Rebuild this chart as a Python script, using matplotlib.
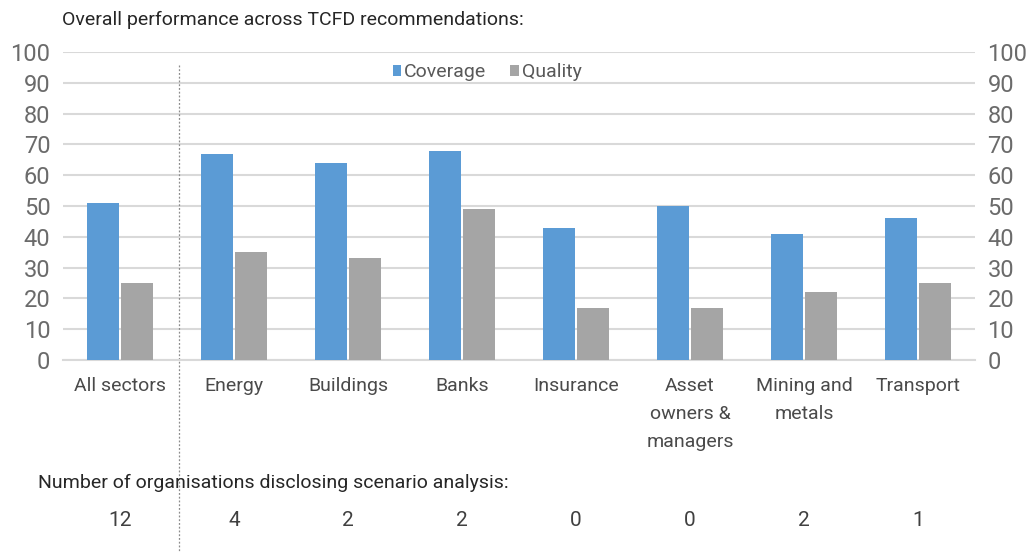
import matplotlib
matplotlib.use("Agg")
import matplotlib.pyplot as plt
import numpy as np

# sector scores (percent)
sectors = ["All sectors", "Energy", "Buildings", "Banks", "Insurance",
           "Asset\nowners &\nmanagers", "Mining and\nmetals", "Transport"]
coverage = [51, 67, 64, 68, 43, 50, 41, 46]
quality = [25, 35, 33, 49, 17, 17, 22, 25]
# organisations disclosing scenario analysis
scenario_counts = [12, 4, 2, 2, 0, 0, 2, 1]

BLUE = "#5b9bd5"
GREY = "#a5a5a5"

plt.rcParams["font.family"] = ["Roboto", "DejaVu Sans"]

fig = plt.figure(figsize=(10.29, 5.53), dpi=100)
ax = fig.add_axes([63 / 1029, 1 - 360 / 553, 912 / 1029, 308 / 553])

x = np.arange(len(sectors))
w = 0.28
ax.bar(x - 0.15, coverage, w, color=BLUE, label="Coverage", zorder=3)
ax.bar(x + 0.15, quality, w, color=GREY, label="Quality", zorder=3)

ax.set_xlim(-0.5, len(sectors) - 0.5)
ax.set_ylim(0, 100)
ax.set_yticks(range(0, 101, 10))
ax.yaxis.grid(True, color="#d9d9d9", linewidth=1.5, zorder=0)
ax.set_axisbelow(True)
for s in ["top", "right", "left"]:
    ax.spines[s].set_visible(False)
ax.spines["bottom"].set_color("#d9d9d9")
ax.spines["bottom"].set_linewidth(1.5)

ax.tick_params(axis="y", length=0, labelsize=17, labelcolor="#6b6b6b",
               labelright=True, pad=9)
ax.set_xticks(x)
ax.set_xticklabels(sectors, fontsize=14, color="#4a4a4a", linespacing=1.72,
                   va="top")
ax.tick_params(axis="x", length=0, pad=12)

# divider between the all-sector total and the individual sectors
trans = ax.get_xaxis_transform()
ax.plot([0.52, 0.52], [0.958, -0.62], transform=trans, color="#8c8c8c",
        linestyle=(0, (1.5, 1.5)), linewidth=0.9, clip_on=False)

ax.legend(loc="upper center", bbox_to_anchor=(0.465, 1.02), ncol=2,
          frameon=False, fontsize=14, handlelength=0.45, handleheight=0.45,
          handletextpad=0.15, columnspacing=1.2, labelcolor="#595959")

fig.text(62 / 1029, 1 - 20 / 553,
         "Overall performance across TCFD recommendations:",
         fontsize=14, color="#262626", va="center")
fig.text(38 / 1029, 1 - 483 / 553,
         "Number of organisations disclosing scenario analysis:",
         fontsize=14, color="#262626", va="center")
for xi, n in zip(x, scenario_counts):
    ax.text(xi, -0.52, str(n), transform=trans, ha="center", va="center",
            fontsize=15, color="#404040")

fig.savefig("out.png", dpi=100)
